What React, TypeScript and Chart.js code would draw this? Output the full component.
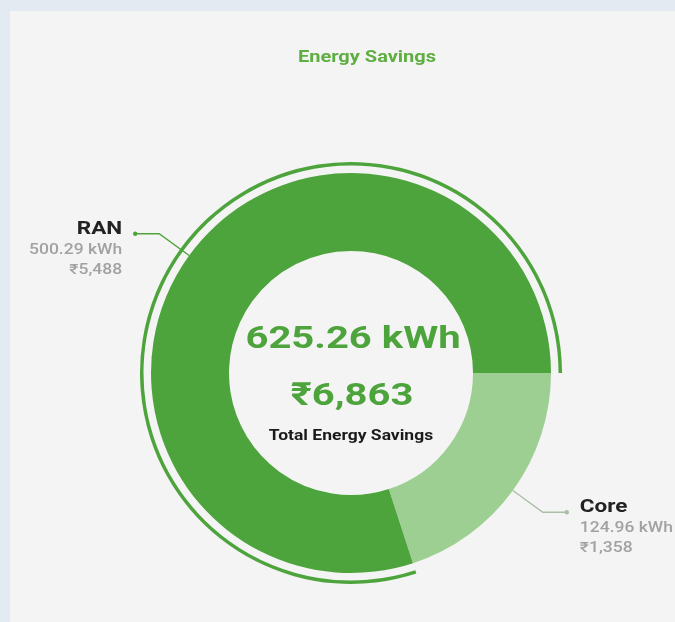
import React, { useEffect, useRef } from 'react';
import { Chart, registerables } from 'chart.js';

Chart.register(...registerables);

// ---- data ----
const categories = ['Core', 'RAN'];
const kwhValues = [124.96, 500.29];
const inrValues = [1358, 5488];
const totalKwh = 625.26;
const totalInr = 6863;
const chartTitle = 'Energy Savings';
const centerCaption = 'Total Energy Savings';

// ---- style ----
const W = 675;
const H = 622;
const PAGE_BG = '#e4eaf1';
const CARD_BG = '#f4f4f4';
const GREEN = '#4ea43c';
const LIGHT = '#9dcf92';
const TITLE_GREEN = '#5fae42';
const DARK = '#222222';
const GRAY = '#a2a2a2';
const FONT = 'Roboto, "Noto Sans", sans-serif';
const STRETCH = 1.25;

const OUTER_R = 211;
const THIN_W = 3.5;
const GAP_W = 7.5;
const INNER_R = 122;
const MAIN_W = OUTER_R - THIN_W - GAP_W - INNER_R;

const fmtKwh = (v: number) => v.toFixed(2) + ' kWh';
const fmtInr = (v: number) => '\u20B9' + v.toLocaleString('en-IN');

function drawText(
  ctx: CanvasRenderingContext2D,
  s: string,
  x: number,
  y: number,
  font: string,
  color: string,
  align: CanvasTextAlign
) {
  ctx.save();
  ctx.translate(x, y);
  ctx.scale(STRETCH, 1);
  ctx.font = font;
  ctx.fillStyle = color;
  ctx.textAlign = align;
  ctx.textBaseline = 'alphabetic';
  ctx.fillText(s, 0, 0);
  ctx.restore();
}

const labelPlugin = {
  id: 'energyLabels',
  afterDatasetsDraw(chart: any) {
    const ctx: CanvasRenderingContext2D = chart.ctx;
    const meta = chart.getDatasetMeta(2);
    const segColors = [LIGHT, GREEN];
    let cx = 0;
    let cy = 0;
    meta.data.forEach((arc: any, i: number) => {
      const { x, y, startAngle, endAngle, outerRadius } = arc.getProps(
        ['x', 'y', 'startAngle', 'endAngle', 'outerRadius'],
        true
      );
      cx = x;
      cy = y;
      const mid = (startAngle + endAngle) / 2;
      const c = Math.cos(mid);
      const s = Math.sin(mid);
      const x0 = x + c * outerRadius;
      const y0 = y + s * outerRadius;
      const x1 = x + c * (outerRadius + 37);
      const y1 = y + s * (outerRadius + 37);
      const dir = c >= 0 ? 1 : -1;
      const x2 = x1 + dir * 24;
      const y2 = y1;
      const lineColor = i === 0 ? '#a9bfa6' : segColors[i];
      ctx.save();
      ctx.strokeStyle = lineColor;
      ctx.lineWidth = 1.4;
      ctx.beginPath();
      ctx.moveTo(x0, y0);
      ctx.lineTo(x1, y1);
      ctx.lineTo(x2, y2);
      ctx.stroke();
      ctx.fillStyle = lineColor;
      ctx.beginPath();
      ctx.arc(x2, y2, 2.2, 0, Math.PI * 2);
      ctx.fill();
      ctx.restore();

      const tx = x2 + dir * 13;
      const align: CanvasTextAlign = dir > 0 ? 'left' : 'right';
      drawText(ctx, categories[i], tx, y2, `bold 18px ${FONT}`, DARK, align);
      drawText(ctx, fmtKwh(kwhValues[i]), tx, y2 + 20, `500 14px ${FONT}`, GRAY, align);
      drawText(ctx, fmtInr(inrValues[i]), tx, y2 + 40, `500 14px ${FONT}`, GRAY, align);
    });

    // centre texts
    drawText(ctx, fmtKwh(totalKwh), cx + 2, cy - 25, `bold 32px ${FONT}`, GREEN, 'center');
    drawText(ctx, fmtInr(totalInr), cx + 1, cy + 32, `bold 32px ${FONT}`, GREEN, 'center');
    drawText(ctx, centerCaption, cx, cy + 67, `bold 14px ${FONT}`, '#1a1a1a', 'center');

    // title
    drawText(ctx, chartTitle, 367, 62, `bold 16px ${FONT}`, TITLE_GREEN, 'center');
  },
};

export default function App() {
  const ref = useRef<HTMLCanvasElement | null>(null);

  useEffect(() => {
    if (!ref.current) return;
    const chart = new Chart(ref.current, {
      type: 'doughnut',
      data: {
        labels: categories,
        datasets: [
          {
            data: kwhValues,
            backgroundColor: ['rgba(0,0,0,0)', GREEN],
            borderWidth: 0,
            weight: THIN_W,
          },
          {
            data: kwhValues,
            backgroundColor: ['rgba(0,0,0,0)', 'rgba(0,0,0,0)'],
            borderWidth: 0,
            weight: GAP_W,
          },
          {
            data: kwhValues,
            backgroundColor: [LIGHT, GREEN],
            borderWidth: 0,
            weight: MAIN_W,
          },
        ],
      },
      options: {
        responsive: false,
        animation: false,
        events: [],
        rotation: 90,
        radius: OUTER_R,
        cutout: (INNER_R / OUTER_R) * 100 + '%',
        layout: { padding: { left: 127, right: 100, top: 150, bottom: 26 } },
        plugins: {
          legend: { display: false },
          tooltip: { enabled: false },
          title: { display: false },
        },
      } as any,
      plugins: [labelPlugin],
    });
    return () => chart.destroy();
  }, []);

  return (
    <div
      style={{
        position: 'fixed',
        left: 0,
        top: 0,
        width: W,
        height: H,
        background: PAGE_BG,
        overflow: 'hidden',
      }}
    >
      <div
        style={{
          position: 'absolute',
          left: 10,
          top: 11,
          right: 0,
          bottom: 0,
          background: CARD_BG,
        }}
      />
      <canvas
        ref={ref}
        width={W}
        height={H}
        style={{ position: 'absolute', left: 0, top: 0, width: W, height: H }}
      />
    </div>
  );
}
